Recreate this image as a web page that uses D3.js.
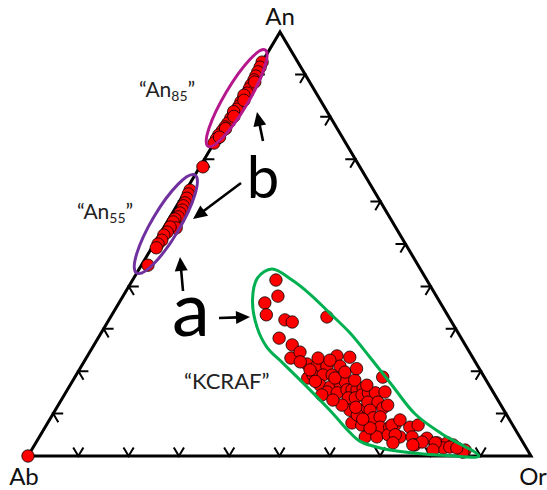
<!DOCTYPE html>
<html><head><meta charset="utf-8">
<script src="https://cdn.jsdelivr.net/npm/d3@7"></script>
<style>
body{margin:0;background:#fff}
svg{display:block;font-family:Lato,"Open Sans",sans-serif}
</style></head><body>
<svg id="chart" width="547" height="490"></svg>
<script>
// every composition is [An %, Or %]; Ab is what is left
const tickSteps = [10, 20, 30, 40, 50, 60, 70, 80, 90];
const abPoint = [[0, 0]];
const an85Points = [
  [92.9,0.0],[91.7,0.2],[90.6,0.3],[89.6,0.4],[88.7,0.5],[87.5,0.5],[86.6,0.6],
  [85.6,0.7],[84.4,0.6],[83.5,0.5],[82.5,0.6],[81.8,0.6],[80.7,0.5],[79.7,0.4],
  [78.5,0.4],[77.6,0.3],[76.7,0.2],[75.7,0.0],[74.8,0.0],[73.8,0.0],
  [88.2,0.9],[85.1,0.3],[83.9,0.9],[81.2,0.2],[80.1,0.8],[77.2,0.6],[75.2,0.4]
];
const an55Points = [
  [68.2,0.6],[62.7,0.8],[61.8,0.9],[60.8,1.1],[59.7,1.3],[59.0,1.3],[58.0,1.6],
  [57.3,1.5],[56.4,1.6],[55.9,1.2],[55.2,1.2],[53.8,2.5],[54.0,1.2],[52.8,1.2],
  [52.1,0.9],[50.9,1.1],[50.0,0.8],[49.1,0.9],[45.0,1.3]
];
const kcrafPoints = [
  [41.5,28.5],[37.7,30.8],[36.1,29.0],[33.3,30.7],[32.1,35.0],[31.6,36.7],[32.8,43.0],
  [27.8,36.0],[26.2,39.4],[23.1,40.7],[21.7,44.6],[21.2,46.8],[21.2,48.8],[23.6,49.6],
  [23.3,52.3],[21.2,51.4],[18.4,46.4],[19.1,47.1],[19.1,49.1],[19.1,50.9],[16.7,49.7],
  [16.3,51.9],[17.2,53.4],[17.5,54.3],[18.6,61.2],[15.1,51.9],[14.9,54.0],[15.6,55.6],
  [15.6,56.6],[15.6,57.6],[16.0,58.6],[13.7,56.8],[13.7,58.2],[14.4,59.2],[14.9,60.2],
  [14.9,61.6],[10.8,58.6],[10.8,60.6],[12.7,61.2],[12.7,63.2],[11.3,64.9],[10.8,62.6],
  [7.8,60.5],[7.3,62.7],[9.0,64.1],[9.2,65.4],[6.8,66.6],[6.8,68.5],[7.3,69.3],
  [6.8,72.5],[7.3,73.9],[4.5,64.8],[4.5,67.1],[5.0,69.1],[4.5,71.7],[4.5,74.1],
  [4.2,77.2],[3.1,79.8],[2.6,75.6],[3.1,81.8],[2.6,83.2],[1.4,86.2],[1.9,81.6],
  [12.0,65.5],[7.3,68.7],[5.0,70.5],[3.3,76.7],[3.1,79.4],[2.1,82.8],[0.9,86.0],
  [1.4,79.8],[3.1,71.0],[2.6,75.2],[1.9,84.3],[24.5,41.8],[23.1,46.1],[22.6,48.7],
  [20.3,45.9],[18.4,51.8],[19.8,53.1],[17.9,56.0],[16.7,59.0],[12.0,56.4],[9.7,60.6],
  [6.6,64.7],[8.5,69.7],[22.2,43.0],[14.4,51.2],[15.1,63.4],[17.6,48.3],[20.6,55.0],
  [13.2,54.0],[11.5,59.4],[8.7,62.2]
];
// group outlines, same [An, Or] frame
const an85Center = [84.4, -0.8];
const an55Center = [54.7, 0.0];
const kcrafOutline = [
  [44.1,26.4],[41.5,31.7],[38.2,36.9],[33.7,43.1],[29.0,49.5],[23.3,56.3],[16.7,64.0],
  [9.9,72.0],[5.2,79.7],[0.0,89.6],[0.1,83.3],[0.7,76.2],[1.9,69.0],[3.5,64.2],
  [6.1,60.5],[10.1,55.5],[16.3,47.3],[21.9,39.7],[25.7,34.6],[30.4,30.3],[36.8,26.2],[42.0,24.6]
];

const V = { ab: [28, 456], or: [531, 456], an: [280, 32] };

const yAn = d3.scaleLinear().domain([0, 100]).range([V.ab[1], V.an[1]]);
const xOr = d3.scaleLinear().domain([0, 100]).range([0, V.or[0] - V.ab[0]]);
const xAn = d3.scaleLinear().domain([0, 100]).range([0, V.an[0] - V.ab[0]]);
const proj = ([an, or]) => [V.ab[0] + xOr(or) + xAn(an), yAn(an)];

const svg = d3.select("#chart");

function unit(a, b) {
  const dx = b[0] - a[0], dy = b[1] - a[1], l = Math.hypot(dx, dy);
  return [dx / l, dy / l];
}

// ticks: two short arms at each step, parallel to the other two sides
const tickLen = 10;
const edges = [
  { at: i => [0, i], dirs: [unit(V.ab, V.an), unit(V.or, V.an)] },
  { at: i => [i, 0], dirs: [unit(V.ab, V.or), unit(V.an, V.or)] },
  { at: i => [i, 100 - i], dirs: [unit(V.or, V.ab), unit(V.an, V.ab)] }
];
const tickG = svg.append("g").attr("stroke", "#000").attr("stroke-width", 2).attr("fill", "none");
edges.forEach(e => {
  tickSteps.forEach(i => {
    const p = proj(e.at(i));
    const [d1, d2] = e.dirs;
    tickG.append("path").attr("d",
      `M${p[0] + d1[0] * tickLen},${p[1] + d1[1] * tickLen}L${p[0]},${p[1]}L${p[0] + d2[0] * tickLen},${p[1] + d2[1] * tickLen}`);
  });
});

svg.append("path")
  .attr("d", d3.line()([proj([0, 0]), proj([0, 100]), proj([100, 0])]) + "Z")
  .attr("fill", "none").attr("stroke", "#000").attr("stroke-width", 3);

// points
const allPts = [...abPoint, ...an85Points, ...an55Points, ...kcrafPoints];
svg.append("g").selectAll("circle").data(allPts).join("circle")
  .attr("cx", d => proj(d)[0]).attr("cy", d => proj(d)[1]).attr("r", 6.2)
  .attr("fill", "#ff0000").attr("stroke", "#000").attr("stroke-width", 0.8);

// outlines
const edgeAngle = Math.atan2(V.an[1] - V.ab[1], V.an[0] - V.ab[0]) * 180 / Math.PI;
[{ c: an85Center, rx: 56, ry: 12, col: "#b5178d" },
 { c: an55Center, rx: 57, ry: 14, col: "#7030a0" }].forEach(o => {
  const p = proj(o.c);
  svg.append("ellipse").attr("transform", `translate(${p[0]},${p[1]}) rotate(${edgeAngle})`)
    .attr("rx", o.rx).attr("ry", o.ry)
    .attr("fill", "none").attr("stroke", o.col).attr("stroke-width", 3);
});
svg.append("path")
  .attr("d", d3.line().curve(d3.curveCatmullRomClosed.alpha(0.5))(kcrafOutline.map(proj)))
  .attr("fill", "none").attr("stroke", "#00b050").attr("stroke-width", 3);

// arrows
const arrows = [
  { from: [263, 141], to: [257, 112] },
  { from: [241, 183], to: [193, 219] },
  { from: [183, 291], to: [180, 257] },
  { from: [219, 318], to: [250, 317] }
];
const headL = 14, headW = 6.5;
arrows.forEach(a => {
  const u = unit(a.from, a.to);
  const base = [a.to[0] - u[0] * headL, a.to[1] - u[1] * headL];
  svg.append("line").attr("x1", a.from[0]).attr("y1", a.from[1])
    .attr("x2", base[0] + u[0] * 2).attr("y2", base[1] + u[1] * 2)
    .attr("stroke", "#000").attr("stroke-width", 2.6);
  svg.append("path").attr("fill", "#000").attr("d",
    `M${a.to[0]},${a.to[1]}L${base[0] - u[1] * headW},${base[1] + u[0] * headW}L${base[0] + u[1] * headW},${base[1] - u[0] * headW}Z`);
});

// texts
const vLabels = [
  { t: "An", x: 280, y: 25 },
  { t: "Ab", x: 24, y: 485 },
  { t: "Or", x: 533, y: 485 }
];
vLabels.forEach(l => svg.append("text").attr("x", l.x).attr("y", l.y)
  .attr("text-anchor", "middle").attr("font-size", 24).attr("fill", "#111").text(l.t));

function subLabel(x, y, sub) {
  const t = svg.append("text").attr("x", x).attr("y", y).attr("font-size", 21).attr("fill", "#222");
  t.append("tspan").text("\u201cAn");
  t.append("tspan").attr("font-size", 14).attr("dy", 4).text(sub);
  t.append("tspan").attr("dy", -4).text("\u201d");
}
subLabel(139, 97, "85");
subLabel(77, 219, "55");
svg.append("text").attr("x", 184).attr("y", 389).attr("font-size", 22).attr("fill", "#222")
  .text("\u201cKCRAF\u201d");

svg.append("text").attr("x", 263).attr("y", 198).attr("text-anchor", "middle")
  .attr("font-size", 58).attr("fill", "#000").text("b");
svg.append("text").attr("x", 191).attr("y", 336).attr("text-anchor", "middle")
  .attr("font-size", 76).attr("fill", "#000").text("a");
</script>
</body></html>
